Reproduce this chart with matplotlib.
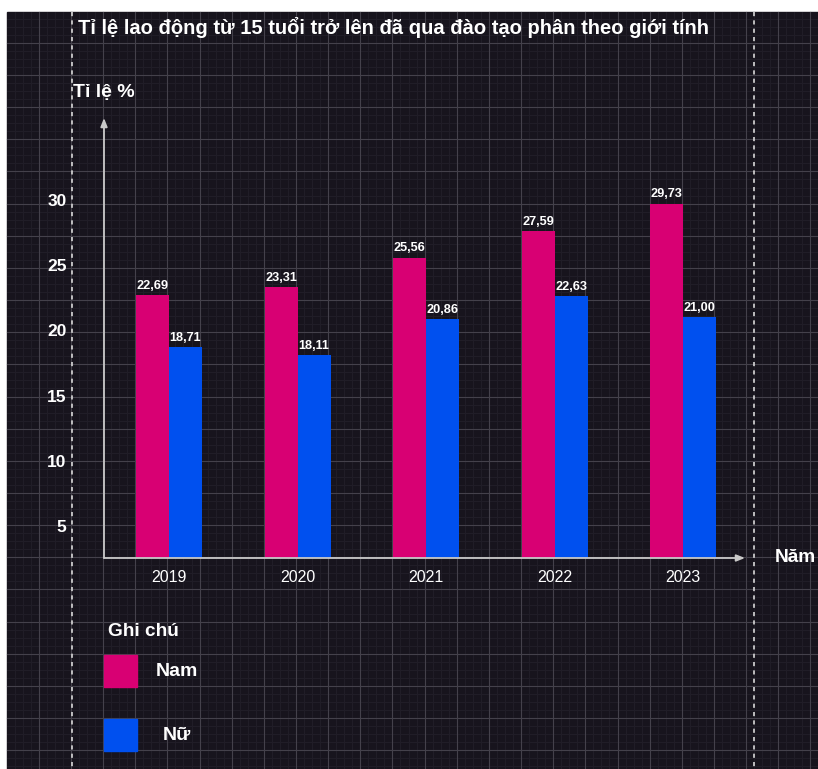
import matplotlib
matplotlib.use("Agg")
import matplotlib.pyplot as plt
import numpy as np

# Data
years = ["2019", "2020", "2021", "2022", "2023"]
nam = [22.69, 23.31, 25.56, 27.59, 29.73]
nu = [18.71, 18.11, 20.86, 22.63, 21.00]
y_ticks = [5, 10, 15, 20, 25, 30]

title = "Tỉ lệ lao động từ 15 tuổi trở lên đã qua đào tạo phân theo giới tính"
series_names = ["Nam", "Nữ"]

COL_NAM = "#d80073"
COL_NU = "#0050ef"
BG = "#17141d"
W, H = 818, 769

plt.rcParams["font.family"] = ["Liberation Sans", "DejaVu Sans"]

fig = plt.figure(figsize=(W / 100, H / 100), dpi=100)
fig.patch.set_facecolor("white")

# Canvas in pixel coordinates for the page background, grid and annotations
bg = fig.add_axes([0, 0, 1, 1])
bg.set_xlim(0, W)
bg.set_ylim(H, 0)
bg.axis("off")
TOP, LEFT = 12, 7
bg.add_patch(plt.Rectangle((LEFT, TOP), W - LEFT, H - TOP, color=BG, zorder=0))

step = 32.15
sub = 4
gx0, gy0 = 231.7, 75.0
minor_step = step / sub
for k in range(-200, 200):
    major = k % sub == 0
    col = "#44414b" if major else "#211e28"
    lw = 0.8 if major else 0.7
    x = gx0 + k * minor_step
    if LEFT <= x <= W:
        bg.plot([x, x], [TOP, H], color=col, lw=lw, zorder=1 + major * 0.1)
    y = gy0 + k * minor_step
    if TOP <= y <= H:
        bg.plot([LEFT, W], [y, y], color=col, lw=lw, zorder=1 + major * 0.1)

# Dashed frame lines
for x in (72, 754):
    bg.plot([x, x], [TOP, H], color="#d8d8d8", lw=1.2, ls=(0, (2.5, 2.5)), zorder=2)

bg.text(78, 28, title, color="white", fontsize=14.5, fontweight="bold",
        va="center", ha="left", zorder=3)
bg.text(73, 93, "Tỉ lệ %", color="white", fontsize=14, fontweight="bold",
        va="center", ha="left", zorder=3)
bg.text(775, 558, "Năm", color="white", fontsize=13.8, fontweight="bold",
        va="center", ha="left", zorder=3)

# Legend
bg.text(108, 631, "Ghi chú", color="white", fontsize=13.7, fontweight="bold",
        va="center", ha="left", zorder=3)
bg.add_patch(plt.Rectangle((104, 655), 33, 32, color=COL_NAM, zorder=3))
bg.text(156, 671, series_names[0], color="white", fontsize=14, fontweight="bold",
        va="center", ha="left", zorder=3)
bg.add_patch(plt.Rectangle((104, 719), 33, 32, color=COL_NU, zorder=3))
bg.text(163, 735, series_names[1], color="white", fontsize=14, fontweight="bold",
        va="center", ha="left", zorder=3)

# Data axes
left, right, top, bottom = 104, 745, 118, 558
ax = fig.add_axes([left / W, 1 - bottom / H, (right - left) / W, (bottom - top) / H])
ax.patch.set_alpha(0)
spacing = 128.5
x0 = 169
ax.set_xlim((left - x0) / spacing, (right - x0) / spacing)
px_per_unit = 13.04
ymin = 5 - (bottom - 526) / px_per_unit
ymax = 5 + (526 - top) / px_per_unit
ax.set_ylim(ymin, ymax)

xs = np.arange(len(years))
bw = 33 / spacing
b1 = ax.bar(xs - bw / 2, nam, width=bw, color=COL_NAM, zorder=3)
b2 = ax.bar(xs + bw / 2, nu, width=bw, color=COL_NU, zorder=3)

for bars, vals in ((b1, nam), (b2, nu)):
    for rect, v in zip(bars, vals):
        ax.annotate(f"{v:.2f}".replace(".", ","),
                    (rect.get_x() + rect.get_width() / 2, v),
                    xytext=(0, 2.5), textcoords="offset points",
                    ha="center", va="bottom", color="white",
                    fontsize=9.2, fontweight="bold", zorder=4)

for s in ax.spines.values():
    s.set_visible(False)
ax.set_xticks(xs)
ax.set_xticklabels(years, color="white", fontsize=11.5)
ax.tick_params(axis="x", length=0, pad=8.5)
ax.set_yticks(y_ticks)
ax.set_yticklabels([str(t) for t in y_ticks], color="white", fontsize=12.5,
                   fontweight="bold")
ax.tick_params(axis="y", length=0, pad=27)

# Axis lines with arrow heads
axis_col = "#c9c9c9"
ax.annotate("", xy=(0, 1), xycoords="axes fraction", xytext=(0, 0),
            arrowprops=dict(arrowstyle="-|>,head_length=0.5,head_width=0.2",
                            color=axis_col, lw=1.3, shrinkA=0, shrinkB=0))
ax.annotate("", xy=(1, 0), xycoords="axes fraction", xytext=(0, 0),
            arrowprops=dict(arrowstyle="-|>,head_length=0.5,head_width=0.2",
                            color=axis_col, lw=1.3, shrinkA=0, shrinkB=0))

fig.savefig("out.png", dpi=100, facecolor=fig.get_facecolor())
